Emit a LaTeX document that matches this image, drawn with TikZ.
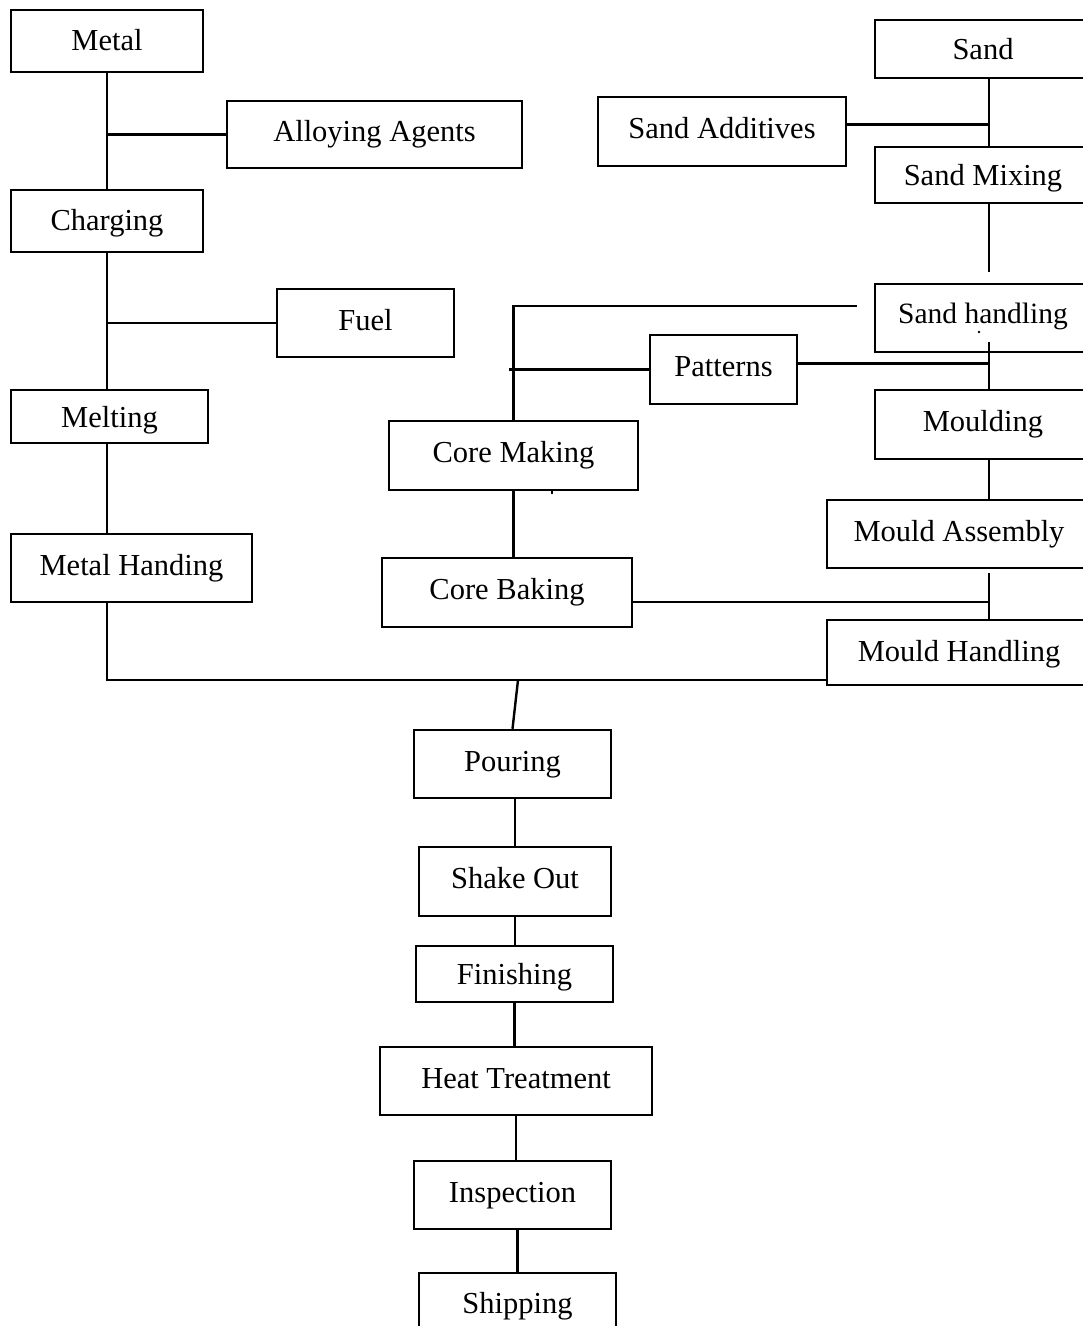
\documentclass[tikz,border=0pt]{standalone}
\usepackage{fontspec}
\setmainfont{Liberation Serif}
\usetikzlibrary{calc}
\begin{document}
\begin{tikzpicture}[x=1pt,y=-1pt,
  box/.style={draw=black,line width=2.4pt,inner sep=0pt,align=center,
    font=\fontsize{30.5}{36}\selectfont,text height=21pt,text depth=7pt},
  conn/.style={draw=black,line width=2.4pt}]
\useasboundingbox (0,0) rectangle (1083,1326);
% left column
\node[box,minimum width=192pt,minimum height=62pt,text depth=3pt] (metal) at (107,41) {Metal};
\node[box,minimum width=295pt,minimum height=67pt] (alloy) at (374.5,134.5) {Alloying Agents};
\node[box,minimum width=192pt,minimum height=62pt,text depth=3pt] (charging) at (107,221) {Charging};
\node[box,minimum width=177pt,minimum height=68pt] (fuel) at (365.5,323) {Fuel};
\node[box,minimum width=197pt,minimum height=53pt,text depth=-5pt] (melting) at (109.5,416.5) {Melting};
\node[box,minimum width=241pt,minimum height=68pt] (metalh) at (131.5,568) {Metal Handing};
% right column
\node[box,minimum width=216pt,minimum height=58pt,text depth=1pt] (sand) at (983,49) {Sand};
\node[box,minimum width=248pt,minimum height=69pt] (sandadd) at (722,131.5) {Sand Additives};
\node[box,minimum width=216pt,minimum height=56pt,text depth=-3pt] (sandmix) at (983,175) {Sand Mixing};
\node[box,minimum width=216pt,minimum height=68pt,font=\fontsize{29.5}{35}\selectfont,text depth=11pt] (sandh) at (983,318) {Sand handling};
\node[box,minimum width=147pt,minimum height=69pt] (patterns) at (723.5,369.5) {Patterns};
\node[box,minimum width=216pt,minimum height=69pt] (moulding) at (983,424.5) {Moulding};
\node[box,minimum width=249pt,minimum height=69pt] (coremk) at (513.5,455.5) {Core Making};
\node[box,minimum width=264pt,minimum height=68pt] (mouldasm) at (959,534) {Mould Assembly};
\node[box,minimum width=250pt,minimum height=69pt] (corebk) at (507,592.5) {Core Baking};
\node[box,minimum width=264pt,minimum height=65pt,text depth=3pt] (mouldh) at (959,652.5) {Mould Handling};
% bottom column
\node[box,minimum width=197pt,minimum height=68pt] (pouring) at (512.5,764) {Pouring};
\node[box,minimum width=192pt,minimum height=69pt] (shake) at (515,881.5) {Shake Out};
\node[box,minimum width=197pt,minimum height=56pt,text depth=-1pt] (finishing) at (514.5,974) {Finishing};
\node[box,minimum width=272pt,minimum height=68pt] (heat) at (516,1081) {Heat Treatment};
\node[box,minimum width=197pt,minimum height=68pt] (inspection) at (512.5,1195) {Inspection};
\node[box,minimum width=197pt,minimum height=67pt] (shipping) at (517.5,1306.5) {Shipping};
% helper coordinates
\coordinate (sx) at (989,0);
\coordinate (bus) at (107,680);
\coordinate (busP) at (518,680);
\coordinate (smEnd) at (989,272);
\coordinate (shEnd) at (857,306);
\coordinate (patL) at (509,369.5);
\coordinate (mTop) at (989,342);
\coordinate (tickA) at (552,490);
\coordinate (tickB) at (552,494);
% metal line
\draw[conn] (metal.south) -- (charging.north);
\draw[conn] (metal.south |- alloy.west) -- (alloy.west);
\draw[conn] (charging.south) -- (charging.south |- melting.north);
\draw[conn] (charging.south |- fuel.west) -- (fuel.west);
\draw[conn] (metal.south |- melting.south) -- (metal.south |- metalh.north);
\draw[conn] (metal.south |- metalh.south) -- (bus) -- (bus -| mouldh.west);
\draw[conn] (busP) -- (pouring.north);
% sand line
\draw[conn] (sx |- sand.south) -- (sx |- sandmix.north);
\draw[conn] ($(sandadd.east)+(0,-7)$) -- ($(sx |- sandadd.east)+(0,-7)$);
\draw[conn] (sx |- sandmix.south) -- (smEnd);
\draw[conn] (shEnd) -| (coremk.north);
\draw[conn] (patL) -- (patterns.west);
\draw[conn] ($(patterns.east)+(0,-6)$) -- ($(sx |- patterns.east)+(0,-6)$);
\draw[conn] (mTop) -- (sx |- moulding.north);
\fill (979,332) circle (1.4pt);
\draw[conn] (sx |- moulding.south) -- (sx |- mouldasm.north);
\draw[conn] ($(sx |- mouldasm.south)+(0,4)$) -- (sx |- mouldh.north);
\draw[conn] ($(corebk.east)+(0,9.5)$) -- ($(sx |- corebk.east)+(0,9.5)$);
\draw[conn] (coremk.south) -- (coremk.south |- corebk.north);
\draw[line width=1.5pt] (tickA) -- (tickB);
% bottom chain
\draw[conn] (shake.north |- pouring.south) -- (shake.north);
\draw[conn] (shake.south) -- (shake.south |- finishing.north);
\draw[conn] (finishing.south) -- (finishing.south |- heat.north);
\draw[conn] (heat.south) -- (heat.south |- inspection.north);
\draw[conn] (inspection.south -| shipping.north) -- (shipping.north);
\end{tikzpicture}
\end{document}
